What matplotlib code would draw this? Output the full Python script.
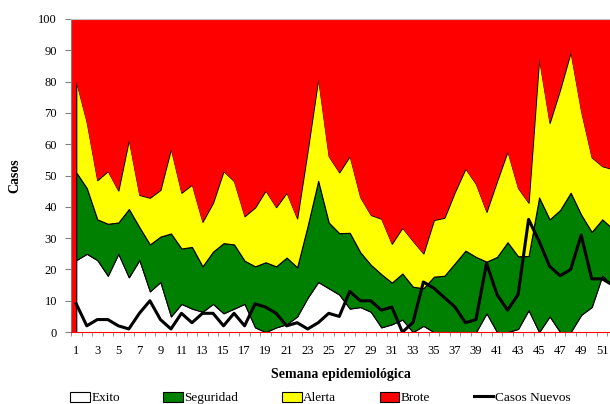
import matplotlib

matplotlib.use("Agg")
import matplotlib.pyplot as plt
import numpy as np
from matplotlib.patches import Patch
from matplotlib.lines import Line2D

# Semanas epidemiologicas
weeks = np.arange(1, 53)

# Limite superior de cada zona del canal endemico
exito = [23, 25, 23, 18, 25, 17.5, 23, 13, 16, 5, 9, 7.5, 6.5, 9, 6, 7.5,
         9, 1.5, 0, 1.5, 2.5, 5, 11, 16, 14, 12, 7.5, 8, 6.5, 1.5, 2.5, 4,
         0, 2, 0, 0, 0, 0, 0, 6, 0, 0, 1, 7, 0, 5, 0, 0, 5.5, 8, 18, 15]
seguridad = [51, 46, 36, 34.6, 35, 39.3, 33.5, 28, 30.5, 31.5, 26.7, 27.2,
             21, 25.7, 28.4, 28, 22.8, 21, 22.3, 21, 23.8, 20.7, 34, 48.3,
             35, 31.6, 31.7, 25.5, 21.5, 18.5, 15.8, 18.7, 14.5, 14, 17.7,
             18, 22, 26, 24, 22.5, 24, 28.7, 24.2, 24.3, 43, 36, 39, 44.5,
             37.5, 32, 36, 33]
alerta = [80, 67, 48.5, 51.4, 45.2, 61.4, 43.8, 42.9, 45.4, 58.5, 44.5,
          47.1, 35.2, 41.3, 51.4, 48.2, 37, 39.8, 45.2, 39.9, 44.5, 36.3,
          58, 80.9, 56.2, 51, 56.2, 43.1, 37.4, 36.2, 28.2, 33.3, 29.1,
          25.1, 35.8, 36.5, 44.8, 52.2, 47.3, 38.4, 48.2, 57.7, 46, 41.3,
          87.3, 66.8, 77.5, 89.4, 70.5, 55.8, 53, 52]
brote = [100] * 52

casos_nuevos = [9, 2, 4, 4, 2, 1, 6, 10, 4, 1, 6, 3, 6, 6, 2, 6, 2, 9, 8,
                6, 2, 3, 1, 3, 6, 5, 13, 10, 10, 7, 8, 0, 3, 16, 14, 11, 8,
                3, 4, 22, 12, 7, 12, 36, 29, 21, 18, 20, 31, 17, 17, 15]

zone_names = ["Exito", "Seguridad", "Alerta", "Brote"]
zone_colors = ["white", "#008000", "#ffff00", "#ff0000"]

plt.rcParams["font.family"] = ["Liberation Serif", "DejaVu Serif"]

fig = plt.figure(figsize=(6.10, 4.04), dpi=100)
ax = fig.add_axes([0.1164, 0.178, 0.8836, 0.775])
ax.set_facecolor("#ff0000")

# Zonas apiladas: cada una desde el limite de la anterior
lower = np.zeros(len(weeks))
for name, upper, color in zip(zone_names, [exito, seguridad, alerta, brote],
                              zone_colors):
    edge = "none" if name == "Brote" else "black"
    ax.fill_between(weeks, lower, upper, facecolor=color, edgecolor=edge,
                    linewidth=0.8, zorder=2)
    lower = np.asarray(upper, dtype=float)

ax.plot(weeks, casos_nuevos, color="black", linewidth=2.2, zorder=3)

ax.set_yticks(np.arange(0, 101, 10))
ax.set_xticks(weeks[::2])
ax.set_xticks(np.arange(0.5, 52, 1), minor=True)
ax.tick_params(axis="x", which="major", length=0, labelsize=9, pad=9)
ax.tick_params(axis="x", which="minor", length=3, color="#808080")
ax.tick_params(axis="y", length=4, color="#808080", labelsize=9, pad=6)

# Los ticks amplian la vista, asi que los limites van despues
ax.set_xlim(0.5, 51.74)
ax.set_ylim(0, 100)

ax.spines["right"].set_visible(False)
ax.spines["top"].set_color("#c0c0c0")
ax.spines["left"].set_color("#808080")
ax.spines["bottom"].set_color("#ff0000")

ax.set_ylabel("Casos", fontsize=10, fontweight="bold", labelpad=12)
ax.set_xlabel("Semana epidemiológica", fontsize=10, fontweight="bold",
              labelpad=8)

handles = [Patch(facecolor=c, edgecolor="black", linewidth=0.8)
           for c in zone_colors]
handles.append(Line2D([0], [0], color="black", linewidth=2.2))
fig.legend(handles, zone_names + ["Casos Nuevos"], loc="lower center",
           bbox_to_anchor=(0.525, -0.03), ncol=5, frameon=False,
           fontsize=9.5, handlelength=1.5, handleheight=0.8,
           handletextpad=0.1, columnspacing=3.3)

fig.savefig("out.png", dpi=100)
